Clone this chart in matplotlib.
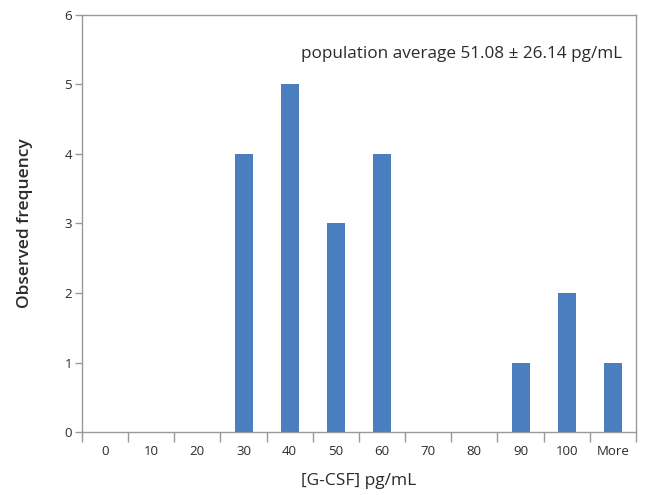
import matplotlib
matplotlib.use("Agg")
import matplotlib.pyplot as plt
import numpy as np

categories = ["0", "10", "20", "30", "40", "50", "60", "70", "80", "90", "100", "More"]
frequency = [0, 0, 0, 4, 5, 3, 4, 0, 0, 1, 2, 1]
y_ticks = [0, 1, 2, 3, 4, 5, 6]
annotation = "population average 51.08 \u00b1 26.14 pg/mL"

plt.rcParams['font.family'] = ['Open Sans', 'DejaVu Sans']
text_color = "#2b2b2b"
frame_color = "#999999"
bar_color = "#4a7ebf"

fig = plt.figure(figsize=(6.45, 4.95), dpi=100)
ax = fig.add_axes([0.127, 0.127, 0.859, 0.843])

x = np.arange(len(categories))
ax.bar(x, frequency, width=0.39, color=bar_color, zorder=3)

ax.set_xlim(-0.5, len(categories) - 0.5)
ax.set_ylim(0, 6)
ax.set_yticks(y_ticks)
ax.set_yticklabels([str(v) for v in y_ticks], fontsize=9.5, color=text_color)

ax.set_xticks(x)
ax.set_xticklabels(categories, fontsize=9.5, color=text_color)
ax.set_xticks(np.arange(len(categories) + 1) - 0.5, minor=True)
ax.tick_params(axis='x', which='major', length=0, pad=9)
ax.tick_params(axis='x', which='minor', length=7, width=1, color=frame_color)
ax.tick_params(axis='y', length=5, width=1, color=frame_color, pad=2)

for s in ax.spines.values():
    s.set_color(frame_color)
    s.set_linewidth(1)

ax.set_ylabel("Observed frequency", fontsize=12.5, color=text_color, labelpad=23, fontweight='semibold')
ax.set_xlabel("[G-CSF] pg/mL", fontsize=12.5, color=text_color, labelpad=11)

ax.text(0.975, 0.905, annotation, transform=ax.transAxes, ha='right', va='center',
        fontsize=12.3, color=text_color)

fig.savefig("out.png", dpi=100)
